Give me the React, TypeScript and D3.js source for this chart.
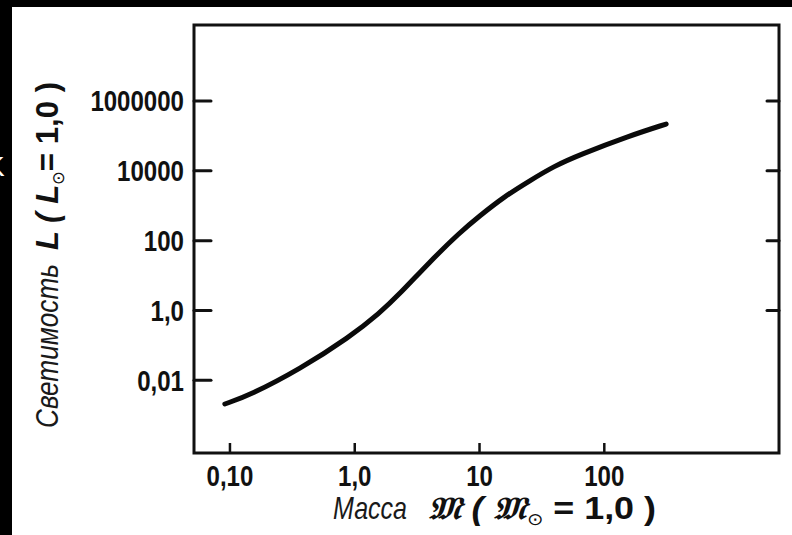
import React from 'react';
import * as d3 from 'd3';

// Mass–luminosity curve
const massValues = [0.091, 0.145, 0.363, 0.912, 1.585, 2.29, 3.98, 6.92, 10, 15.85, 25.1, 39.8, 63, 158, 313];
const lumValues = [0.0021, 0.0038, 0.021, 0.174, 0.85, 2.97, 24.5, 170, 510, 1846, 5140, 13800, 28600, 100000, 219000];

const xTickValues = [0.1, 1, 10, 100];
const xTickLabels = ['0,10', '1,0', '10', '100'];
const yTickValues = [0.01, 1, 100, 10000, 1000000];
const yTickLabels = ['0,01', '1,0', '100', '10000', '1000000'];
const yRightTickValues = [1, 100, 10000, 1000000];

const xDomain = [0.0515, 2512];
const yDomain = [8.3e-5, 1.5e8];

export default function App() {
  const W = 792;
  const H = 535;
  const left = 194, right = 779, top = 25, bottom = 453;

  const x = d3.scaleLog().domain(xDomain).range([left, right]);
  const y = d3.scaleLog().domain(yDomain).range([bottom, top]);

  const pts = massValues.map((m, i) => [m, lumValues[i]] as [number, number]);
  const line = d3
    .line<[number, number]>()
    .x((d) => x(d[0]))
    .y((d) => y(d[1]))
    .curve(d3.curveBasis);

  const labelFont = "'Liberation Sans', Arial, sans-serif";

  return (
    <svg
      width={W}
      height={H}
      viewBox={`0 0 ${W} ${H}`}
      style={{ position: 'fixed', left: 0, top: 0, display: 'block' }}
    >
      <rect x={0} y={0} width={W} height={H} fill="#fff" />
      {/* scan borders */}
      <rect x={0} y={0} width={W} height={7} fill="#000" />
      <rect x={0} y={0} width={12} height={H} fill="#000" />
      <text x={-14} y={176} fill="#fff" fontFamily={labelFont} fontSize={28}>K</text>

      {/* frame */}
      <rect
        x={left}
        y={top}
        width={right - left}
        height={bottom - top}
        fill="none"
        stroke="#111"
        strokeWidth={3}
      />

      {/* left y ticks */}
      {yTickValues.map((v, i) => (
        <g key={'yl' + i}>
          <line x1={left} x2={left + 17} y1={y(v)} y2={y(v)} stroke="#111" strokeWidth={3} strokeLinecap="round" />
          <g transform={`translate(${left - 10},${y(v)}) scale(0.83,1)`}>
            <text
              x={0}
              y={0}
              dy="0.36em"
              textAnchor="end"
              fontFamily={labelFont}
              fontWeight="bold"
              fontSize={29}
              fill="#111"
            >
              {yTickLabels[i]}
            </text>
          </g>
        </g>
      ))}

      {/* right y ticks */}
      {yRightTickValues.map((v, i) => (
        <line key={'yr' + i} x1={right} x2={right - 12} y1={y(v)} y2={y(v)} stroke="#111" strokeWidth={3} strokeLinecap="round" />
      ))}

      {/* x ticks */}
      {xTickValues.map((v, i) => (
        <g key={'x' + i}>
          <line x1={x(v)} x2={x(v)} y1={bottom} y2={bottom - 10} stroke="#111" strokeWidth={2.5} />
          <g transform={`translate(${x(v)},486) scale(0.83,1)`}>
            <text
              x={0}
              y={0}
              textAnchor="middle"
              fontFamily={labelFont}
              fontWeight="bold"
              fontSize={29}
              fill="#111"
            >
              {xTickLabels[i]}
            </text>
          </g>
        </g>
      ))}

      {/* curve */}
      <path d={line(pts) || ''} fill="none" stroke="#0a0a0a" strokeWidth={5} strokeLinecap="round" />

      {/* y title */}
      <text
        transform="translate(58,428) rotate(-90)"
        fontFamily={labelFont}
        fill="#1a1a1a"
        fontStyle="italic"
        fontSize={31}
        textLength={164}
        lengthAdjust="spacingAndGlyphs"
      >
        Светимость
      </text>
      <text
        transform="translate(58,250) rotate(-90)"
        fontFamily={labelFont}
        fill="#111"
        textLength={168}
        lengthAdjust="spacingAndGlyphs"
      >
        <tspan fontStyle="italic" fontWeight="bold" fontSize={32}>{'L ( L'}</tspan>
        <tspan fontSize={17} dy={6}>⊙</tspan>
        <tspan fontWeight="bold" fontSize={32} dy={-6}>{'= 1,0 )'}</tspan>
      </text>

      {/* x title */}
      <text
        x={333}
        y={519}
        fontFamily={labelFont}
        fill="#1a1a1a"
        fontStyle="italic"
        fontSize={32}
        textLength={74}
        lengthAdjust="spacingAndGlyphs"
      >
        Масса
      </text>
      <text
        x={428}
        y={519}
        fontFamily={labelFont}
        fill="#111"
        textLength={228}
        lengthAdjust="spacingAndGlyphs"
      >
        <tspan fontWeight="bold" fontStyle="italic" fontSize={31}>{'𝔐 ( 𝔐'}</tspan>
        <tspan fontSize={17} dy={6}>⊙</tspan>
        <tspan fontWeight="bold" fontSize={31} dy={-6}>{' = 1,0 )'}</tspan>
      </text>
    </svg>
  );
}
